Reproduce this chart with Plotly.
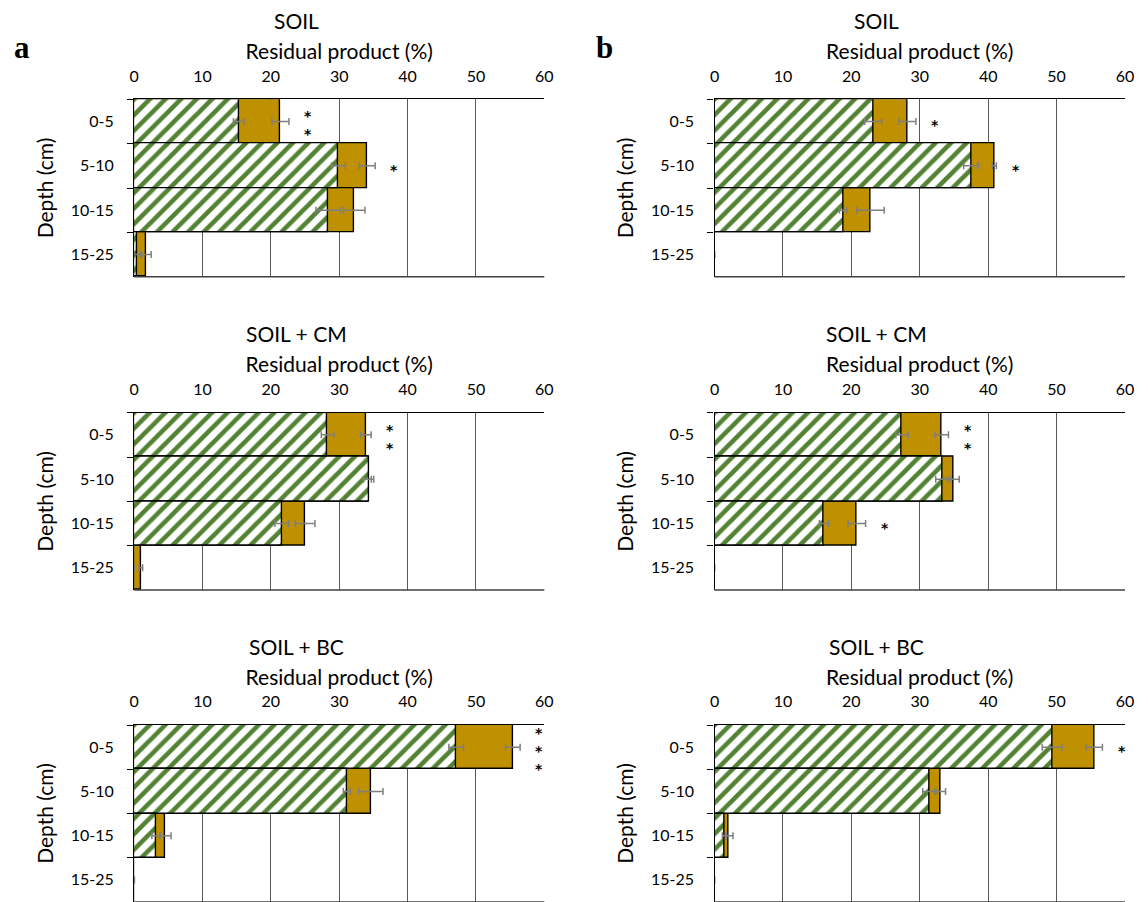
import plotly.graph_objects as go

# ---------------- data ----------------
depth = ["0-5", "5-10", "10-15", "15-25"]
panel_titles = ["SOIL", "SOIL + CM", "SOIL + BC"]
column_letters = ["a", "b"]
x_tickvals = [0, 10, 20, 30, 40, 50, 60]

# column a
a_soil_green = [15.3, 29.9, 28.4, 0.4]
a_soil_green_err = [0.77, 1.0, 1.8, 0.5]
a_soil_gold = [21.4, 34.1, 32.2, 1.8]
a_soil_gold_err = [1.25, 1.16, 1.57, 0.7]
a_soil_sig = ["**", "*", "", ""]

a_cm_green = [28.3, 34.3, 21.6, 0.0]
a_cm_green_err = [0.92, 0.75, 1.0, 0.0]
a_cm_gold = [33.9, 34.2, 25.0, 1.0]
a_cm_gold_err = [0.77, 0.5, 1.45, 0.25]
a_cm_sig = ["**", "", "", ""]

a_bc_green = [47.1, 31.1, 3.2, 0.0]
a_bc_green_err = [1.06, 0.5, 0.6, 0.0]
a_bc_gold = [55.4, 34.6, 4.6, 0.05]
a_bc_gold_err = [1.06, 1.8, 0.8, 0.0]
a_bc_sig = ["***", "", "", ""]

# column b
b_soil_green = [23.2, 37.5, 18.8, 0.0]
b_soil_green_err = [1.25, 1.08, 0.53, 0.0]
b_soil_gold = [28.2, 40.9, 22.8, 0.0]
b_soil_gold_err = [1.23, 0.3, 2.0, 0.0]
b_soil_sig = ["*", "*", "", ""]

b_cm_green = [27.4, 33.4, 16.0, 0.0]
b_cm_green_err = [0.9, 1.07, 0.67, 0.0]
b_cm_gold = [33.2, 34.9, 20.8, 0.0]
b_cm_gold_err = [1.0, 0.87, 1.28, 0.0]
b_cm_sig = ["**", "", "*", ""]

b_bc_green = [49.35, 31.5, 1.45, 0.0]
b_bc_green_err = [1.45, 1.06, 0.3, 0.0]
b_bc_gold = [55.5, 33.0, 2.0, 0.0]
b_bc_gold_err = [1.2, 0.77, 0.7, 0.0]
b_bc_sig = ["*", "", "", ""]

# ---------------- styling ----------------
W, H = 1148, 902
FONT = "Lato"
GREEN = "#548235"
GOLD = "#BF9000"
ERR = "#7F7F7F"
GRID = "#595959"

col_x_px = [(130.7, 546.0), (718.3, 1133.8)]
row_y_px = [(99.3, 276.7), (412.7, 590.0), (725.0, 902.0)]
title_offset_px = -43.4
title_y_px = [20, 333.4, 646.0]
letter_pos_px = [(17, 47), (607, 47)]

panels = [
    # (col, row, green, green_err, gold, gold_err, sig)
    (0, 0, a_soil_green, a_soil_green_err, a_soil_gold, a_soil_gold_err, a_soil_sig),
    (0, 1, a_cm_green, a_cm_green_err, a_cm_gold, a_cm_gold_err, a_cm_sig),
    (0, 2, a_bc_green, a_bc_green_err, a_bc_gold, a_bc_gold_err, a_bc_sig),
    (1, 0, b_soil_green, b_soil_green_err, b_soil_gold, b_soil_gold_err, b_soil_sig),
    (1, 1, b_cm_green, b_cm_green_err, b_cm_gold, b_cm_gold_err, b_cm_sig),
    (1, 2, b_bc_green, b_bc_green_err, b_bc_gold, b_bc_gold_err, b_bc_sig),
]

fig = go.Figure()
annotations = []
shapes = []
layout_axes = {}

for k, (c, r, green, gerr, gold, golderr, sig) in enumerate(panels):
    idx = k + 1
    xs = "x" if idx == 1 else f"x{idx}"
    ys = "y" if idx == 1 else f"y{idx}"
    xname = "xaxis" if idx == 1 else f"xaxis{idx}"
    yname = "yaxis" if idx == 1 else f"yaxis{idx}"

    x0, x1 = col_x_px[c]
    yt, yb = row_y_px[r]
    xdom = [x0 / W, x1 / W]
    ydom = [max(0.0, 1 - yb / H), 1 - yt / H]

    fig.add_trace(go.Bar(
        y=depth, x=gold, orientation="h", xaxis=xs, yaxis=ys,
        marker=dict(color=GOLD, line=dict(color="black", width=1.4)),
        error_x=dict(type="data", array=golderr, color=ERR, thickness=1.5, width=3.5),
        showlegend=False, hoverinfo="x+y",
    ))
    fig.add_trace(go.Bar(
        y=depth, x=green, orientation="h", xaxis=xs, yaxis=ys,
        marker=dict(color="white", line=dict(color="black", width=1.4),
                    pattern=dict(shape="/", fgcolor=GREEN, bgcolor="white",
                                 fgopacity=1, size=11, solidity=0.42)),
        error_x=dict(type="data", array=gerr, color=ERR, thickness=1.5, width=3.5),
        showlegend=False, hoverinfo="x+y",
    ))

    layout_axes[xname] = dict(
        domain=xdom, anchor=ys, side="top", range=[0, 60], tickvals=x_tickvals,
        showgrid=True, gridcolor=GRID, gridwidth=1.4, zeroline=False,
        showline=True, linecolor="black", linewidth=1.4, ticks="",
        ticklabelstandoff=10,
        tickfont=dict(family=FONT, size=16, color="black"),
        title=dict(text="Residual product (%)", font=dict(family=FONT, size=21, color="black"),
                   standoff=0),
        fixedrange=True,
    )
    layout_axes[yname] = dict(
        domain=ydom, anchor=xs, type="category", categoryorder="array",
        categoryarray=depth, range=[len(depth) - 0.5, -0.5], autorange=False,
        showgrid=False, zeroline=False, showline=True, linecolor="black", linewidth=1.4,
        ticks="outside", tickson="boundaries", ticklen=6, tickcolor="black", tickwidth=1.3,
        ticklabelstandoff=16,
        tickfont=dict(family=FONT, size=16, color="black"),
        title=dict(text="Depth (cm)", font=dict(family=FONT, size=21, color="black"),
                   standoff=11),
        fixedrange=True,
    )

    # bottom border of plot area
    shapes.append(dict(type="line", xref=f"{xs} domain", yref=f"{ys} domain",
                       x0=0, x1=1, y0=0, y1=0, layer="above",
                       line=dict(color="#404040", width=1.5)))

    # panel title
    annotations.append(dict(
        text=panel_titles[r], xref="paper", yref="paper",
        x=((x0 + x1) / 2 + title_offset_px) / W, y=1 - title_y_px[r] / H,
        xanchor="center", yanchor="middle", showarrow=False,
        font=dict(family=FONT, size=21, color="black"),
    ))

    # significance stars (stacked in a single text)
    for j, s in enumerate(sig):
        n = len(s)
        if n == 0:
            continue
        xend = max(gold[j] + golderr[j], green[j] + gerr[j]) + 2.8
        annotations.append(dict(
            text="<br>".join(list(s)), xref=xs, yref=ys, x=xend, y=depth[j],
            xanchor="center", yanchor="middle", showarrow=False,
            yshift=-4,
            font=dict(family="DejaVu Sans", size=14, color="black", weight="bold"),
        ))

for c, letter in enumerate(column_letters):
    lx, ly = letter_pos_px[c]
    annotations.append(dict(
        text=f"<b>{letter}</b>", xref="paper", yref="paper",
        x=lx / W, y=1 - ly / H, xanchor="center", yanchor="middle", showarrow=False,
        font=dict(family="Liberation Serif", size=31, color="black"),
    ))

fig.update_layout(
    width=W, height=H, margin=dict(l=0, r=0, t=0, b=0),
    paper_bgcolor="white", plot_bgcolor="white",
    barmode="overlay", bargap=0,
    annotations=annotations, shapes=shapes,
    **layout_axes,
)

fig.write_html(
    "out.html",
    config={"displayModeBar": False},
    post_script="document.body.style.margin='0';document.body.style.overflow='hidden';",
)
